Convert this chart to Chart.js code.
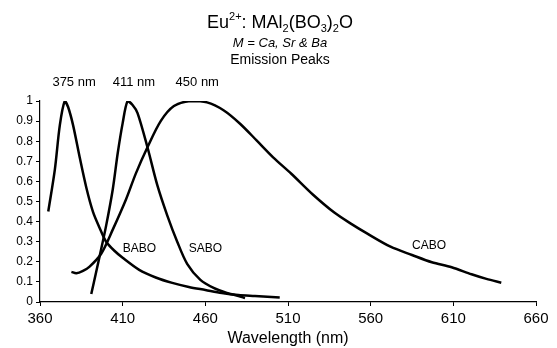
<!DOCTYPE html>
<html>
<head>
<meta charset="utf-8">
<script src="https://cdn.jsdelivr.net/npm/chart.js@4"></script>
<style>
html,body{margin:0;padding:0;background:#fff;}
#wrap{width:557px;height:348px;position:relative;}
</style>
</head>
<body>
<div id="wrap"><canvas id="c"></canvas></div>
<script>
// ---- data ----
const babo_nm  = [365, 369, 372, 375, 377, 380, 384, 388, 392, 396, 400, 405, 410, 420, 430, 440, 450, 460, 470, 480, 490, 500, 505];
const babo_val = [0.45, 0.66, 0.88, 1.0, 0.97, 0.88, 0.72, 0.57, 0.45, 0.37, 0.30, 0.255, 0.22, 0.16, 0.122, 0.095, 0.075, 0.06, 0.045, 0.035, 0.03, 0.025, 0.022];

const sabo_nm  = [391, 394, 396, 400, 404, 407, 410, 413, 416, 419, 425, 431, 437, 443, 449, 457, 465, 473, 480, 484];
const sabo_val = [0.04, 0.15, 0.225, 0.38, 0.56, 0.74, 0.89, 1.0, 0.98, 0.94, 0.77, 0.58, 0.43, 0.30, 0.19, 0.11, 0.07, 0.045, 0.03, 0.02];

const cabo_nm  = [379, 382, 386, 390, 397, 404, 412, 418, 425, 433, 441, 451, 461, 471, 481, 491, 501, 512, 525, 538, 548, 558, 572, 585, 597, 609, 621, 630, 639];
const cabo_val = [0.15, 0.143, 0.155, 0.176, 0.24, 0.36, 0.51, 0.64, 0.77, 0.90, 0.975, 1.0, 0.993, 0.954, 0.887, 0.804, 0.72, 0.638, 0.535, 0.445, 0.39, 0.34, 0.275, 0.234, 0.198, 0.173, 0.138, 0.115, 0.096];

const seriesNames = ["BABO", "SABO", "CABO"];
const peakLabels = ["375 nm", "411 nm", "450 nm"];
const xTickMin = 360, xTickMax = 660, xTickStep = 50;
const yTickMin = 0, yTickMax = 1, yTickStep = 0.1;

// annotation anchors (data coordinates)
const seriesLabelAnchors = [[410, 0.264], [450, 0.264], [585, 0.279]];
const peakLabelAnchors = [[367.5, 1.092], [404, 1.092], [442, 1.092]];

function pts(xs, ys){ return xs.map((x,i)=>({x:x, y:ys[i]})); }

const FONT = '"Liberation Sans", Arial, sans-serif';
const lineStyle = {borderColor:'#000', borderWidth:2.5, pointRadius:0, fill:false, tension:0.3};

const overlay = {
  id:'overlay',
  afterDraw(chart){
    const ctx = chart.ctx;
    const xs = chart.scales.x, ys = chart.scales.y;
    ctx.save();
    ctx.fillStyle = '#000';
    ctx.textBaseline = 'alphabetic';
    // Title line 1 with super/subscripts
    const parts = [
      ['Eu', 18, 0], ['2+', 11, -8], [': MAl', 18, 0], ['2', 11, 4], ['(BO', 18, 0], ['3', 11, 4], [')', 18, 0], ['2', 11, 4], ['O', 18, 0]
    ];
    let total = 0;
    parts.forEach(p=>{ ctx.font = p[1]+'px '+FONT; total += ctx.measureText(p[0]).width; });
    let x = 280 - total/2;
    parts.forEach(p=>{ ctx.font = p[1]+'px '+FONT; ctx.fillText(p[0], x, 28 + p[2]); x += ctx.measureText(p[0]).width; });
    ctx.textAlign = 'center';
    ctx.font = 'italic 13px '+FONT;
    ctx.fillText('M = Ca, Sr & Ba', 280, 47);
    ctx.font = '14px '+FONT;
    ctx.fillText('Emission Peaks', 280, 64);
    // peak labels
    ctx.textAlign = 'left';
    ctx.textBaseline = 'middle';
    ctx.font = '13px '+FONT;
    peakLabels.forEach((t,i)=>{ ctx.fillText(t, xs.getPixelForValue(peakLabelAnchors[i][0]), ys.getPixelForValue(peakLabelAnchors[i][1])); });
    ctx.font = '12px '+FONT;
    seriesNames.forEach((t,i)=>{ ctx.fillText(t, xs.getPixelForValue(seriesLabelAnchors[i][0]), ys.getPixelForValue(seriesLabelAnchors[i][1])); });
    ctx.restore();
  }
};

new Chart(document.getElementById('c'), {
  type:'line',
  data:{
    datasets:[
      Object.assign({label:seriesNames[0], data:pts(babo_nm, babo_val)}, lineStyle),
      Object.assign({label:seriesNames[1], data:pts(sabo_nm, sabo_val)}, lineStyle),
      Object.assign({label:seriesNames[2], data:pts(cabo_nm, cabo_val)}, lineStyle)
    ]
  },
  options:{
    responsive:true, maintainAspectRatio:false, animation:false,
    layout:{padding:{top:101, right:21, left:6, bottom:0}},
    plugins:{legend:{display:false}, title:{display:false}, tooltip:{enabled:false}},
    scales:{
      x:{type:'linear', min:xTickMin, max:xTickMax,
         afterFit:(a)=>{a.height = 46;},
         ticks:{stepSize:xTickStep, color:'#000', font:{family:FONT, size:15}, padding:4, maxRotation:0},
         grid:{display:true, drawOnChartArea:false, drawTicks:true, tickLength:4, color:'#000'},
         border:{display:true, color:'#000', width:1.2},
         title:{display:true, text:'Wavelength (nm)', color:'#000', font:{family:FONT, size:16}, padding:{top:0, bottom:0}}},
      y:{min:yTickMin, max:yTickMax,
         afterFit:(a)=>{a.width = 34;},
         ticks:{stepSize:yTickStep, color:'#000', font:{family:FONT, size:12}, padding:3,
                callback:(v)=>String(Math.round(v*10)/10)},
         grid:{display:true, drawOnChartArea:false, drawTicks:true, tickLength:4, color:'#000'},
         border:{display:true, color:'#000', width:1.2}}
    }
  },
  plugins:[overlay]
});
</script>
</body>
</html>
